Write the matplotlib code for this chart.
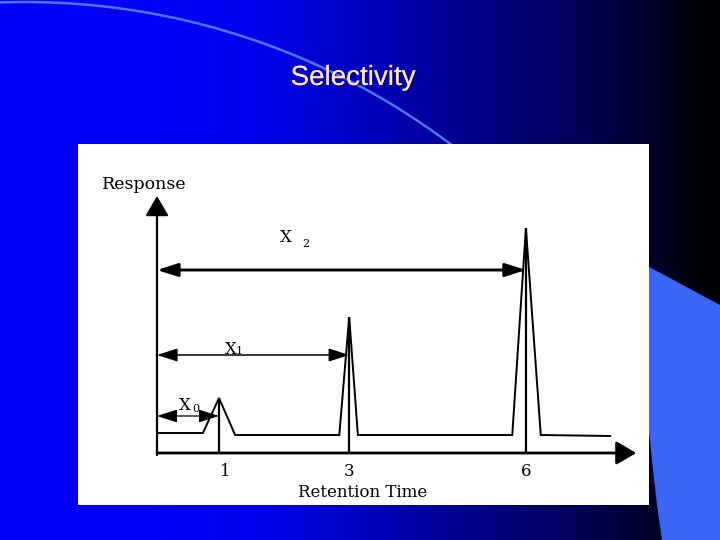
import numpy as np
import matplotlib
matplotlib.use("Agg")
import matplotlib.pyplot as plt
from matplotlib.patches import Polygon, ArrowStyle
import matplotlib.patheffects as pe

# ---------------- data ----------------
title = "Selectivity"
y_label = "Response"
x_label = "Retention Time"
peak_labels = ["1", "3", "6"]
peak_times = [1.0, 3.1, 5.95]
peak_heights = [5.5, 13.6, 22.5]
trace_times = [0.0, 0.74, 1.0, 1.26, 2.94, 3.10, 3.24, 5.73, 5.95, 6.19, 7.31]
trace_response = [2.0, 2.0, 5.5, 1.8, 1.8, 13.6, 1.8, 1.8, 22.5, 1.8, 1.7]
distance_names = ["X", "X", "X"]
distance_subscripts = ["0", "1", "2"]

# ---------------- layout / style ----------------
W, H = 720, 540
SERIF = ["DejaVu Serif"]
arrow_levels = [3.7, 9.8, 18.3]
arrow_lws = [0.9, 1.1, 2.1]
name_pos = [(0.45, 4.3), (1.19, 9.9), (2.08, 21.1)]
sub_pos = [(0.63, 4.1), (1.32, 9.9), (2.40, 20.6)]
tick_dx = [6, 0, 0]

fig = plt.figure(figsize=(7.2, 5.4), dpi=100)

# background slide
bg = fig.add_axes([0, 0, 1, 1])
bg.set_xlim(0, W)
bg.set_ylim(H, 0)
bg.axis("off")
stops_x = [0, 250, 400, 500, 600, 680, 720]
stops_b = [255, 240, 175, 125, 75, 22, 0]
xs = np.arange(W)
img = np.zeros((1, W, 3))
img[0, :, 2] = np.interp(xs, stops_x, stops_b) / 255.0
bg.imshow(img, extent=(0, W, H, 0), aspect="auto", interpolation="bilinear", zorder=0)

# decorative arc
cx, cy, R = 25, 710, 708
ax_arc = np.linspace(-5, 470, 300)
ay_arc = cy - np.sqrt(R ** 2 - (ax_arc - cx) ** 2)
bg.plot(ax_arc, ay_arc, color="#5a8cff", lw=1.8, alpha=0.85, zorder=1)

# light-blue shape on right
bg.add_patch(Polygon([(640, 262), (720, 305), (720, 540), (662, 540), (657, 505),
                      (653, 470), (650, 440), (645, 400)],
                     closed=True, facecolor="#3a66f5", edgecolor="none", zorder=1))

fig.text(353 / W, 1 - 85 / H, title, ha="center", va="baseline", fontsize=20,
         family="Liberation Sans", color="#ffe4c4",
         path_effects=[pe.withSimplePatchShadow(offset=(1, -1), shadow_rgbFace="black", alpha=0.4),
                       pe.Normal()])

# chart panel
L, Rr, T, B = 78, 649, 144, 505
ax = fig.add_axes([L / W, 1 - B / H, (Rr - L) / W, (B - T) / H])
x0px, xscale = 157, 62.0
y0px, yscale = 453, 10.0
ax.set_xlim((L - x0px) / xscale, (Rr - x0px) / xscale)
ax.set_ylim((y0px - B) / yscale, (y0px - T) / yscale)
ax.set_facecolor("white")
for s in ax.spines.values():
    s.set_visible(False)
ax.set_xticks([])
ax.set_yticks([])

# axes with arrows
axis_style = ArrowStyle("-|>", head_length=0.87, head_width=0.51)
ax.annotate("", xy=(0, 25.7), xytext=(0, -0.2),
            arrowprops=dict(arrowstyle=axis_style, color="black", lw=1.6,
                            shrinkA=0, shrinkB=0, mutation_scale=14))
ax.annotate("", xy=(7.73, 0), xytext=(0, 0),
            arrowprops=dict(arrowstyle=axis_style, color="black", lw=2.0,
                            shrinkA=0, shrinkB=0, mutation_scale=14))

# chromatogram trace and peak markers
ax.plot(trace_times, trace_response, color="black", lw=1.4, solid_joinstyle="miter")
ax.vlines(peak_times, 0, peak_heights, color="black", lw=1.6)

# distance arrows
dbl_style = ArrowStyle("<|-|>", head_length=1.25, head_width=0.4)
for t, lvl, lw in zip(peak_times, arrow_levels, arrow_lws):
    ax.annotate("", xy=(t, lvl), xytext=(0, lvl),
                arrowprops=dict(arrowstyle=dbl_style, color="black", lw=lw,
                                shrinkA=0, shrinkB=0, mutation_scale=10))

for name, sub, p, q in zip(distance_names, distance_subscripts, name_pos, sub_pos):
    ax.text(p[0], p[1], name, ha="center", va="baseline", fontsize=12, family=SERIF)
    ax.text(q[0], q[1], sub, ha="center", va="baseline", fontsize=8, family=SERIF)

# tick labels
for t, lab, dx in zip(peak_times, peak_labels, tick_dx):
    ax.annotate(lab, (t, -2.35), xytext=(dx * 0.72, 0), textcoords="offset points",
                ha="center", va="baseline", fontsize=12, family=SERIF)

ax.text(3.31, -4.4, x_label, ha="center", va="baseline", fontsize=12, family=SERIF)
ax.text(-0.21, 26.4, y_label, ha="center", va="baseline", fontsize=12.5, family=SERIF)

fig.savefig("out.png", dpi=100)
